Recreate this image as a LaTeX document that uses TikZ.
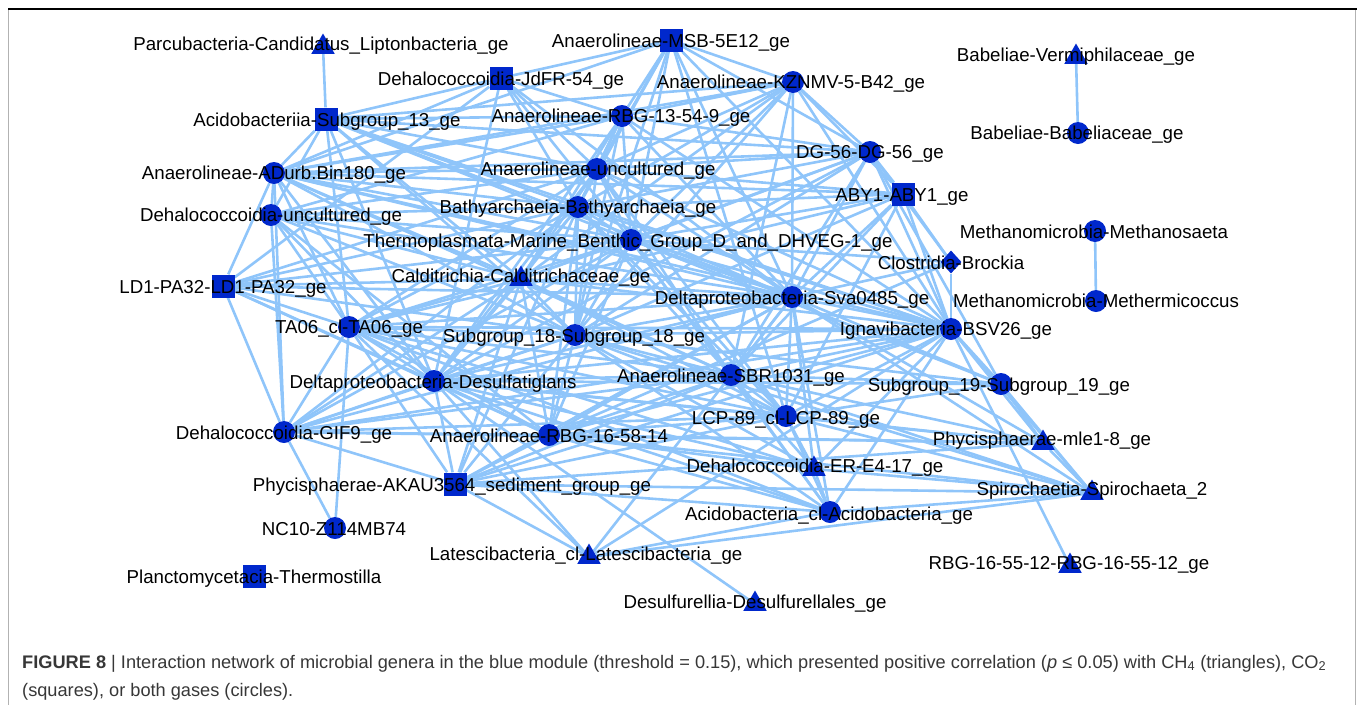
\documentclass[tikz,border=0pt]{standalone}
\usepackage{fontspec}
\setmainfont{Liberation Sans}
\usetikzlibrary{shapes.geometric,backgrounds}
\definecolor{nodeblue}{RGB}{0,40,204}
\definecolor{edgeblue}{RGB}{143,197,250}
\definecolor{captxt}{RGB}{55,55,55}
\begin{document}
\begin{tikzpicture}[x=1pt,y=-1pt,
  circ/.style={circle,fill=nodeblue,minimum size=22pt,inner sep=0pt},
  sq/.style={rectangle,fill=nodeblue,minimum size=23pt,inner sep=0pt},
  tri/.style={regular polygon,regular polygon sides=3,fill=nodeblue,minimum size=27pt,inner sep=0pt},
  dia/.style={diamond,fill=nodeblue,minimum width=21pt,minimum height=23pt,inner sep=0pt},
  lab/.style={font=\fontsize{18.7}{20}\selectfont,inner sep=0pt,text height=13.4pt,text depth=0pt,text=black},
  link/.style={draw=edgeblue,line width=2.6pt},
  captext/.style={font=\fontsize{18.2}{20}\selectfont,inner sep=0pt,anchor=base west,text=captxt}]
\useasboundingbox (0,0) rectangle (1357,705);
\draw[gray!60,line width=1pt] (8,9) -- (8,705);
\draw[gray!60,line width=1pt] (1355,9) -- (1355,705);
\draw[black,line width=1.3pt] (8,9) -- (1357,9);
% shapes
\node[tri]  (parc)   at (323,47)  {};
\node[sq]   (msb)    at (671,40)  {};
\node[sq]   (jdfr)   at (501,78)  {};
\node[sq]   (acs13)  at (326,119) {};
\node[circ] (kznmv)  at (793,82)  {};
\node[circ] (rbg13)  at (622,116) {};
\node[circ] (adurb)  at (274,173) {};
\node[circ] (dhunc)  at (271,215) {};
\node[circ] (dg56)   at (870,152) {};
\node[circ] (anunc)  at (597,169) {};
\node[sq]   (aby1)   at (903,194) {};
\node[circ] (bath)   at (578,207) {};
\node[circ] (thermo) at (631,240) {};
\node[tri]  (vermi)  at (1076,57) {};
\node[circ] (babel)  at (1078,133) {};
\node[circ] (msaeta) at (1095,231) {};
\node[circ] (mther)  at (1096,301) {};
\node[dia]  (brock)  at (951,262) {};
\node[circ] (sva)    at (792,297) {};
\node[circ] (ignav)  at (951,329) {};
\node[tri]  (caldi)  at (521,279) {};
\node[sq]   (ld1)    at (223,286) {};
\node[circ] (ta06)   at (349,327) {};
\node[circ] (sg18)   at (575,335) {};
\node[circ] (desulf) at (434,381) {};
\node[circ] (sbr)    at (731,375) {};
\node[circ] (sg19)   at (1001,384) {};
\node[circ] (lcp)    at (786,416) {};
\node[circ] (gif9)   at (284,432) {};
\node[circ] (rbg16)  at (549,435) {};
\node[tri]  (mle1)   at (1043,443) {};
\node[tri]  (ere4)   at (814,469) {};
\node[sq]   (akau)   at (455,484) {};
\node[tri]  (spiro)  at (1092,493) {};
\node[circ] (acido)  at (830,512) {};
\node[circ] (nc10)   at (335,528) {};
\node[tri]  (late)   at (589,557) {};
\node[tri]  (rbgff)  at (1070,566) {};
\node[sq]   (plancto) at (254,576) {};
\node[tri]  (desulfur) at (755,604) {};
% connectors
\begin{pgfonlayer}{background}
\foreach \a/\b in {parc/acs13,vermi/babel,msaeta/mther,brock/ignav,ignav/rbgff,nc10/gif9,nc10/ta06,desulfur/desulf,
 acs13/jdfr,acs13/adurb,acs13/dhunc,acs13/kznmv,acs13/dg56,acs13/anunc,acs13/bath,acs13/thermo,acs13/sva,acs13/ta06,acs13/sg18,acs13/caldi,acs13/ignav,acs13/desulf,acs13/rbg13,
 jdfr/anunc,jdfr/desulf,jdfr/bath,jdfr/thermo,jdfr/sva,jdfr/adurb,jdfr/ld1,jdfr/msb,jdfr/rbg13,
 msb/rbg13,msb/anunc,msb/bath,msb/thermo,msb/kznmv,msb/dg56,msb/sva,msb/ignav,msb/adurb,msb/sg18,msb/lcp,
 kznmv/rbg13,kznmv/anunc,kznmv/bath,kznmv/dg56,kznmv/aby1,kznmv/sva,kznmv/ignav,kznmv/thermo,kznmv/adurb,kznmv/sg18,kznmv/sbr,kznmv/caldi,
 rbg13/anunc,rbg13/bath,rbg13/thermo,rbg13/dg56,rbg13/adurb,rbg13/dhunc,rbg13/sva,rbg13/sg18,rbg13/caldi,rbg13/desulf,rbg13/ignav,
 dg56/anunc,dg56/bath,dg56/thermo,dg56/aby1,dg56/brock,dg56/ignav,dg56/sva,dg56/adurb,dg56/sg18,dg56/sbr,dg56/sg19,dg56/caldi,dg56/desulf,
 aby1/anunc,aby1/bath,aby1/thermo,aby1/brock,aby1/ignav,aby1/sva,aby1/adurb,aby1/sg18,aby1/sbr,aby1/lcp,aby1/ta06,
 anunc/bath,anunc/thermo,anunc/adurb,anunc/dhunc,anunc/sva,anunc/ignav,anunc/sg18,anunc/caldi,anunc/desulf,anunc/ta06,anunc/ld1,anunc/sbr,anunc/lcp,
 bath/thermo,bath/adurb,bath/dhunc,bath/sva,bath/ignav,bath/sg18,bath/caldi,bath/desulf,bath/ta06,bath/ld1,bath/sbr,bath/lcp,bath/rbg16,bath/gif9,bath/akau,
 thermo/adurb,thermo/dhunc,thermo/sva,thermo/ignav,thermo/sg18,thermo/caldi,thermo/desulf,thermo/ta06,thermo/ld1,thermo/sbr,thermo/lcp,thermo/rbg16,thermo/brock,thermo/gif9,thermo/sg19,thermo/acido,
 adurb/dhunc,adurb/sva,adurb/ignav,adurb/sg18,adurb/caldi,adurb/desulf,adurb/ta06,adurb/ld1,adurb/gif9,adurb/sbr,
 dhunc/sva,dhunc/sg18,dhunc/caldi,dhunc/desulf,dhunc/ta06,dhunc/gif9,dhunc/rbg16,
 ld1/ta06,ld1/desulf,ld1/caldi,ld1/sva,ld1/gif9,ld1/sg18,ld1/rbg16,
 caldi/sva,caldi/ignav,caldi/sg18,caldi/desulf,caldi/ta06,caldi/gif9,caldi/sbr,caldi/lcp,caldi/rbg16,caldi/akau,
 ta06/sg18,ta06/desulf,ta06/gif9,ta06/rbg16,ta06/sbr,ta06/lcp,ta06/sva,ta06/ignav,ta06/akau,ta06/late,ta06/ere4,ta06/acido,
 sva/ignav,sva/sg18,sva/desulf,sva/sbr,sva/lcp,sva/rbg16,sva/sg19,sva/mle1,sva/spiro,sva/akau,sva/ere4,sva/acido,sva/gif9,sva/brock,sva/late,
 ignav/sg18,ignav/desulf,ignav/sbr,ignav/lcp,ignav/rbg16,ignav/sg19,ignav/mle1,ignav/spiro,ignav/akau,ignav/ere4,ignav/acido,ignav/gif9,ignav/late,
 sg18/desulf,sg18/sbr,sg18/lcp,sg18/rbg16,sg18/gif9,sg18/akau,sg18/ere4,sg18/acido,sg18/sg19,sg18/spiro,
 desulf/sbr,desulf/lcp,desulf/rbg16,desulf/gif9,desulf/akau,desulf/ere4,desulf/acido,desulf/sg19,desulf/mle1,desulf/late,
 sbr/lcp,sbr/rbg16,sbr/gif9,sbr/akau,sbr/ere4,sbr/acido,sbr/sg19,sbr/mle1,sbr/spiro,
 lcp/rbg16,lcp/gif9,lcp/akau,lcp/ere4,lcp/acido,lcp/sg19,lcp/mle1,lcp/spiro,
 rbg16/gif9,rbg16/akau,rbg16/ere4,rbg16/acido,rbg16/mle1,rbg16/spiro,
 gif9/akau,gif9/mle1,akau/spiro,akau/mle1,akau/late,akau/acido,
 ere4/acido,ere4/spiro,acido/spiro,acido/late,sg19/mle1,sg19/spiro,mle1/spiro,late/spiro,brock/rbg16}
  \draw[link] (\a) -- (\b);
\end{pgfonlayer}
% labels
\node[lab] (Lparc)   at (321,44)  {Parcubacteria-Candidatus\_Liptonbacteria\_ge};
\node[lab] (Lmsb)    at (671,41)  {Anaerolineae-MSB-5E12\_ge};
\node[lab] (Ljdfr)   at (501,79)  {Dehalococcoidia-JdFR-54\_ge};
\node[lab] (Lacs13)  at (327,120) {Acidobacteriia-Subgroup\_13\_ge};
\node[lab] (Lkznmv)  at (791,82)  {Anaerolineae-KZNMV-5-B42\_ge};
\node[lab] (Lrbg13)  at (621,116) {Anaerolineae-RBG-13-54-9\_ge};
\node[lab] (Ladurb)  at (274,173) {Anaerolineae-ADurb.Bin180\_ge};
\node[lab] (Ldhunc)  at (271,215) {Dehalococcoidia-uncultured\_ge};
\node[lab] (Ldg56)   at (870,152) {DG-56-DG-56\_ge};
\node[lab] (Lanunc)  at (598,169) {Anaerolineae-uncultured\_ge};
\node[lab] (Laby1)   at (902,195) {ABY1-ABY1\_ge};
\node[lab] (Lbath)   at (578,207) {Bathyarchaeia-Bathyarchaeia\_ge};
\node[lab] (Lthermo) at (628,241) {Thermoplasmata-Marine\_Benthic\_Group\_D\_and\_DHVEG-1\_ge};
\node[lab] (Lvermi)  at (1076,55) {Babeliae-Vermiphilaceae\_ge};
\node[lab] (Lbabel)  at (1077,133) {Babeliae-Babeliaceae\_ge};
\node[lab] (Lmsaeta) at (1094,232) {Methanomicrobia-Methanosaeta};
\node[lab] (Lmther)  at (1096,301) {Methanomicrobia-Methermicoccus};
\node[lab] (Lbrock)  at (951,263) {Clostridia-Brockia};
\node[lab] (Lsva)    at (792,298) {Deltaproteobacteria-Sva0485\_ge};
\node[lab] (Lignav)  at (946,329) {Ignavibacteria-BSV26\_ge};
\node[lab] (Lcaldi)  at (521,276) {Calditrichia-Calditrichaceae\_ge};
\node[lab] (Lld1)    at (223,287) {LD1-PA32-LD1-PA32\_ge};
\node[lab] (Lta06)   at (349,327) {TA06\_cl-TA06\_ge};
\node[lab] (Lsg18)   at (574,336) {Subgroup\_18-Subgroup\_18\_ge};
\node[lab] (Ldesulf) at (433,382) {Deltaproteobacteria-Desulfatiglans};
\node[lab] (Lsbr)    at (731,376) {Anaerolineae-SBR1031\_ge};
\node[lab] (Lsg19)   at (999,385) {Subgroup\_19-Subgroup\_19\_ge};
\node[lab] (Llcp)    at (786,418) {LCP-89\_cl-LCP-89\_ge};
\node[lab] (Lgif9)   at (284,433) {Dehalococcoidia-GIF9\_ge};
\node[lab] (Lrbg16)  at (549,436) {Anaerolineae-RBG-16-58-14};
\node[lab] (Lmle1)   at (1042,439) {Phycisphaerae-mle1-8\_ge};
\node[lab] (Lere4)   at (815,466) {Dehalococcoidia-ER-E4-17\_ge};
\node[lab] (Lakau)   at (452,485) {Phycisphaerae-AKAU3564\_sediment\_group\_ge};
\node[lab] (Lspiro)  at (1092,489) {Spirochaetia-Spirochaeta\_2};
\node[lab] (Lacido)  at (829,514) {Acidobacteria\_cl-Acidobacteria\_ge};
\node[lab] (Lnc10)   at (334,529) {NC10-Z114MB74};
\node[lab] (Llate)   at (586,554) {Latescibacteria\_cl-Latescibacteria\_ge};
\node[lab] (Lrbgff)  at (1069,563) {RBG-16-55-12-RBG-16-55-12\_ge};
\node[lab] (Lplancto) at (254,577) {Planctomycetacia-Thermostilla};
\node[lab] (Ldesulfur) at (755,602) {Desulfurellia-Desulfurellales\_ge};
% caption
\node[captext] (cap1) at (22,668) {\textbf{FIGURE 8} | Interaction network of microbial genera in the blue module (threshold = 0.15), which presented positive correlation (\textit{p} ≤ 0.05) with CH\textsubscript{4} (triangles), CO\textsubscript{2}};
\node[captext] (cap2) at (22,696) {(squares), or both gases (circles).};
\end{tikzpicture}
\end{document}
